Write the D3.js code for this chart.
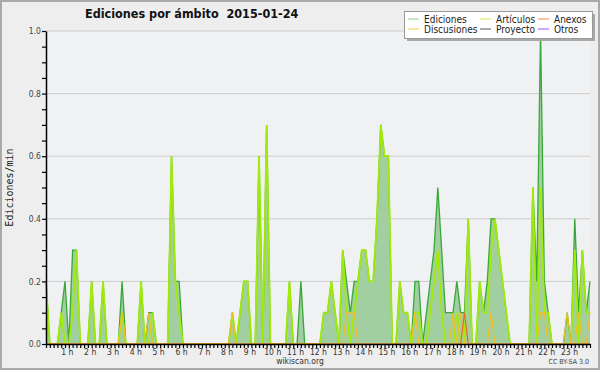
<!DOCTYPE html>
<html>
<head>
<meta charset="utf-8">
<script src="https://cdn.jsdelivr.net/npm/d3@7"></script>
<style>
  body { margin: 0; background: #eeeeee; }
  svg { display: block; }
</style>
</head>
<body>
<div id="chartContainer"></div>
<script>
// 10-minute bins, 0:00 .. 23:50 (edits per minute)
const ediciones = [
  0.2, 0, 0, 0, 0.1, 0.2, 0, 0.3, 0.3, 0, 0, 0,
  0.2, 0, 0, 0.2, 0, 0, 0, 0, 0.2, 0, 0, 0,
  0, 0.2, 0, 0.1, 0.1, 0, 0, 0, 0, 0.6, 0.2, 0.2,
  0, 0, 0, 0, 0, 0, 0, 0, 0, 0, 0, 0,
  0, 0.1, 0, 0.1, 0.2, 0.2, 0, 0, 0.6, 0, 0.7, 0,
  0, 0, 0, 0, 0.2, 0, 0, 0.2, 0, 0, 0, 0,
  0, 0.1, 0.1, 0.2, 0.1, 0, 0.3, 0.2, 0.1, 0.2, 0.2, 0.3,
  0.3, 0.2, 0.2, 0.4, 0.7, 0.6, 0.6, 0, 0, 0.2, 0.1, 0.1,
  0, 0.2, 0.2, 0, 0.1, 0.2, 0.3, 0.5, 0.3, 0.1, 0.1, 0.1,
  0.2, 0.1, 0.1, 0.4, 0, 0, 0.2, 0.1, 0.2, 0.4, 0.4, 0.3,
  0.2, 0.1, 0, 0, 0, 0, 0, 0, 0.5, 0.2, 1.0, 0.2,
  0.1, 0, 0, 0, 0, 0.1, 0, 0.4, 0.1, 0.3, 0.1, 0.2
];
const articulos = [
  0.2, 0, 0, 0, 0.1, 0, 0, 0.1, 0.3, 0, 0, 0,
  0.2, 0, 0, 0.2, 0, 0, 0, 0, 0.1, 0, 0, 0,
  0, 0.2, 0, 0, 0.1, 0, 0, 0, 0, 0.6, 0.2, 0.1,
  0, 0, 0, 0, 0, 0, 0, 0, 0, 0, 0, 0,
  0, 0.1, 0, 0.1, 0.2, 0.2, 0, 0, 0.6, 0, 0.7, 0,
  0, 0, 0, 0, 0.2, 0, 0, 0, 0, 0, 0, 0,
  0, 0.1, 0.1, 0.2, 0.1, 0, 0.3, 0.1, 0, 0.1, 0.2, 0.3,
  0.3, 0.2, 0.2, 0.4, 0.7, 0.6, 0.6, 0, 0, 0.2, 0.1, 0.1,
  0, 0.1, 0.1, 0, 0, 0.1, 0.2, 0.3, 0.1, 0, 0, 0,
  0.1, 0, 0, 0.4, 0, 0, 0.2, 0.1, 0.1, 0.3, 0.4, 0.3,
  0.2, 0.1, 0, 0, 0, 0, 0, 0, 0.5, 0, 0.5, 0.1,
  0.1, 0, 0, 0, 0, 0, 0, 0.3, 0, 0.3, 0.1, 0.1
];
const discusiones = [
  0, 0, 0, 0, 0, 0, 0, 0, 0, 0, 0, 0,
  0, 0, 0, 0, 0, 0, 0, 0, 0.1, 0, 0, 0,
  0, 0, 0, 0.1, 0, 0, 0, 0, 0, 0, 0, 0,
  0, 0, 0, 0, 0, 0, 0, 0, 0, 0, 0, 0,
  0, 0.1, 0, 0, 0, 0, 0, 0, 0, 0, 0, 0,
  0, 0, 0, 0, 0, 0, 0, 0, 0, 0, 0, 0,
  0, 0, 0, 0, 0, 0, 0, 0.1, 0.1, 0.1, 0, 0,
  0, 0, 0, 0, 0, 0, 0, 0, 0, 0, 0, 0,
  0, 0.1, 0, 0, 0, 0, 0, 0, 0, 0, 0, 0.1,
  0, 0.1, 0, 0, 0, 0, 0, 0, 0, 0.1, 0, 0,
  0, 0, 0, 0, 0, 0, 0, 0, 0, 0, 0.1, 0.1,
  0, 0, 0, 0, 0, 0.1, 0, 0, 0.1, 0, 0, 0.1
];
const anexos = [
  0, 0, 0, 0, 0, 0, 0, 0, 0, 0, 0, 0,
  0, 0, 0, 0, 0, 0, 0, 0, 0, 0, 0, 0,
  0, 0, 0, 0, 0, 0, 0, 0, 0, 0, 0, 0,
  0, 0, 0, 0, 0, 0, 0, 0, 0, 0, 0, 0,
  0, 0, 0, 0, 0, 0, 0, 0, 0, 0, 0, 0,
  0, 0, 0, 0, 0, 0, 0, 0, 0, 0, 0, 0,
  0, 0, 0, 0, 0, 0, 0, 0, 0, 0, 0, 0,
  0, 0, 0, 0, 0, 0, 0, 0, 0, 0, 0, 0,
  0, 0, 0, 0, 0, 0, 0, 0, 0, 0, 0, 0,
  0, 0, 0.1, 0, 0, 0, 0, 0, 0, 0, 0, 0,
  0, 0, 0, 0, 0, 0, 0, 0, 0, 0, 0, 0,
  0, 0, 0, 0, 0, 0, 0, 0, 0, 0, 0, 0
];

const legendNames = ["Ediciones", "Artículos", "Anexos", "Discusiones", "Proyecto", "Otros"];
const legendColors = ["#8fd08f", "#c8ec50", "#f08a50", "#f0d050", "#555555", "#9955ee"];
const yTicks = [0, 0.2, 0.4, 0.6, 0.8, 1.0];
const hours = d3.range(1, 24);

const chartWidth = 600;
const chartHeight = 370;
const margin = { top: 31, right: 10, bottom: 26, left: 46 };
const font = "'DejaVu Sans Condensed', 'DejaVu Sans', sans-serif";

const svg = d3.select("#chartContainer").append("svg")
  .attr("width", chartWidth)
  .attr("height", chartHeight);

// background + frame
svg.append("rect")
  .attr("x", 1).attr("y", 1)
  .attr("width", chartWidth - 2).attr("height", chartHeight - 2)
  .style("fill", "#eeeeee")
  .style("stroke", "#aaaaaa")
  .style("stroke-width", 2);

const x = d3.scaleLinear()
  .domain([0, ediciones.length - 1])
  .range([margin.left, chartWidth - margin.right]);

const y = d3.scaleLinear()
  .domain([0, 1])
  .range([chartHeight - margin.bottom, margin.top]);

// plot area
svg.append("rect")
  .attr("x", x(0)).attr("y", y(1))
  .attr("width", x(ediciones.length - 1) - x(0))
  .attr("height", y(0) - y(1))
  .style("fill", "#f0f1f3");

// horizontal grid
svg.append("g")
  .selectAll("line")
  .data(yTicks.filter(d => d > 0))
  .enter().append("line")
  .attr("x1", x(0)).attr("x2", x(ediciones.length - 1))
  .attr("y1", d => y(d)).attr("y2", d => y(d))
  .style("stroke", "#cccccc")
  .style("stroke-width", 1);

// Ediciones area
const area = d3.area()
  .x((d, i) => x(i))
  .y0(y(0))
  .y1(d => y(d));

const line = d3.line()
  .x((d, i) => x(i))
  .y(d => y(d));

svg.append("path")
  .datum(ediciones)
  .attr("d", area)
  .style("fill", "#9dcc9d")
  .style("fill-opacity", 0.95);

svg.append("path")
  .datum(ediciones)
  .attr("d", line)
  .style("fill", "none")
  .style("stroke", "#38a838")
  .style("stroke-width", 1.3);

svg.append("path")
  .datum(articulos)
  .attr("d", line)
  .style("fill", "none")
  .style("stroke", "#a2ea08")
  .style("stroke-width", 1.8);

svg.append("path")
  .datum(discusiones)
  .attr("d", line)
  .style("fill", "none")
  .style("stroke", "#f0c020")
  .style("stroke-width", 1.2);

svg.append("path")
  .datum(anexos)
  .attr("d", line)
  .style("fill", "none")
  .style("stroke", "#ee6622")
  .style("stroke-width", 1.2);

// y axis
const yAxis = svg.append("g")
  .attr("transform", `translate(${x(0)},0)`)
  .call(d3.axisLeft(y)
    .tickValues(d3.range(0, 21).map(d => d / 20))
    .tickSize(4)
    .tickSizeOuter(0)
    .tickFormat(d => yTicks.some(t => Math.abs(t - d) < 1e-6) ? d.toFixed(1) : ""));
yAxis.select(".domain").style("stroke", "#000").style("stroke-width", 1.5);
yAxis.selectAll(".tick line").style("stroke", "#000").style("stroke-width", 1.2);
yAxis.selectAll("text")
  .attr("x", -5)
  .style("font-family", font)
  .style("font-size", "8.5px")
  .style("fill", "#444");

// x axis
const xAxis = svg.append("g")
  .attr("transform", `translate(0,${y(0)})`)
  .call(d3.axisBottom(x)
    .tickValues(d3.range(0, ediciones.length))
    .tickSize(4)
    .tickSizeOuter(0)
    .tickFormat(d => d % 6 === 0 && hours.includes(d / 6) ? `${d / 6} h` : ""));
xAxis.select(".domain").style("stroke", "#000").style("stroke-width", 1.5);
xAxis.selectAll(".tick line").style("stroke", "#000").style("stroke-width", 1.2);
xAxis.selectAll("text")
  .attr("y", 5)
  .attr("dx", -2)
  .style("font-family", font)
  .style("font-size", "8.5px")
  .style("fill", "#333");

// y axis title
svg.append("text")
  .attr("transform", `translate(13, ${(y(0) + y(1)) / 2}) rotate(-90)`)
  .attr("text-anchor", "middle")
  .style("font-family", "'DejaVu Sans Mono', monospace")
  .style("font-size", "10px")
  .style("fill", "#222")
  .text("Ediciones/min");

// title
svg.append("text")
  .attr("x", 85)
  .attr("y", 18)
  .style("font-family", font)
  .style("font-weight", "bold")
  .style("font-size", "12.5px")
  .style("fill", "#111")
  .style("white-space", "pre")
  .text("Ediciones por ámbito  2015-01-24");

// footer
svg.append("text")
  .attr("x", 300)
  .attr("y", 364)
  .attr("text-anchor", "middle")
  .style("font-family", font)
  .style("font-size", "8.5px")
  .style("fill", "#333")
  .text("wikiscan.org");

svg.append("text")
  .attr("x", 589)
  .attr("y", 364)
  .attr("text-anchor", "end")
  .style("font-family", font)
  .style("font-size", "7px")
  .style("fill", "#444")
  .text("CC BY-SA 3.0");

// legend
const legend = svg.append("g");
legend.append("rect")
  .attr("x", 407).attr("y", 14)
  .attr("width", 188).attr("height", 27)
  .style("fill", "#aaaaaa");
legend.append("rect")
  .attr("x", 404.5).attr("y", 11.5)
  .attr("width", 188).attr("height", 27)
  .style("fill", "#ffffff")
  .style("stroke", "#999999");

const colX = [408, 480, 538];
const rowY = [19, 29];
legendNames.forEach((name, i) => {
  const cx = colX[i % 3];
  const cy = rowY[Math.floor(i / 3)];
  legend.append("line")
    .attr("x1", cx).attr("x2", cx + 11)
    .attr("y1", cy).attr("y2", cy)
    .style("stroke", legendColors[i])
    .style("stroke-width", 1);
  legend.append("text")
    .attr("x", cx + 16)
    .attr("y", cy + 3.5)
    .style("font-family", font)
    .style("font-size", "10px")
    .style("fill", "#222")
    .text(name);
});
</script>
</body>
</html>
